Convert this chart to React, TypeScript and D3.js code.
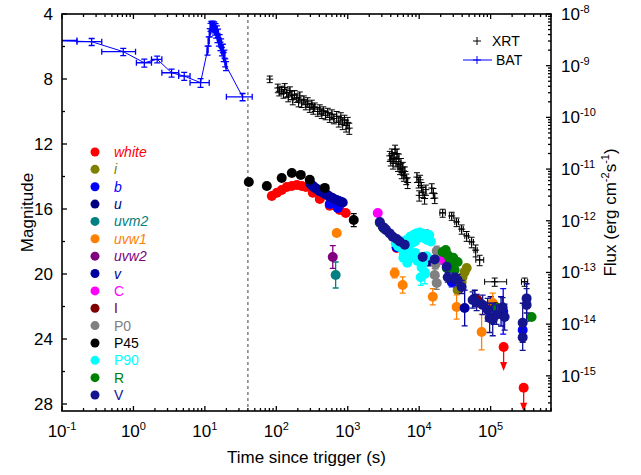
import React, { useRef, useEffect } from 'react';
import * as d3 from 'd3';

// BAT: time (s), flux, t low, t high, flux error
const batPoints: number[][] = [
  [0.08, 3.07e-9, 0.04, 0.162, 0.4e-9],
  [0.26, 2.91e-9, 0.162, 0.36, 0.45e-9],
  [0.72, 1.87e-9, 0.36, 1.07, 0.3e-9],
  [1.42, 1.14e-9, 1.1, 1.79, 0.2e-9],
  [2.15, 1.33e-9, 1.79, 2.5, 0.2e-9],
  [3.42, 7.3e-10, 2.5, 4.3, 1.3e-10],
  [5.14, 6.3e-10, 4.3, 6.2, 1.1e-10],
  [8.7, 4.7e-10, 6.2, 11.5, 0.9e-10],
  [10.9, 2.0e-9, 10.7, 11.1, 0.4e-9],
  [11.3, 3.0e-9, 11.1, 11.5, 0.6e-9],
  [11.7, 4.4e-9, 11.5, 11.9, 0.8e-9],
  [12.0, 5.6e-9, 11.85, 12.15, 1.0e-9],
  [12.3, 6.2e-9, 12.15, 12.45, 1.0e-9],
  [12.6, 5.8e-9, 12.45, 12.75, 1.0e-9],
  [12.9, 6.3e-9, 12.75, 13.05, 1.0e-9],
  [13.2, 5.2e-9, 13.05, 13.35, 0.9e-9],
  [13.5, 6.0e-9, 13.35, 13.65, 1.0e-9],
  [13.8, 4.8e-9, 13.65, 13.95, 0.9e-9],
  [14.1, 5.5e-9, 13.95, 14.25, 1.0e-9],
  [14.4, 4.2e-9, 14.25, 14.55, 0.8e-9],
  [14.7, 5.0e-9, 14.55, 14.85, 0.9e-9],
  [15.0, 3.5e-9, 14.85, 15.15, 0.7e-9],
  [15.3, 4.3e-9, 15.15, 15.5, 0.8e-9],
  [15.7, 2.9e-9, 15.5, 15.9, 0.5e-9],
  [16.1, 3.4e-9, 15.9, 16.3, 0.6e-9],
  [16.5, 2.4e-9, 16.3, 16.7, 0.45e-9],
  [16.9, 2.8e-9, 16.7, 17.1, 0.5e-9],
  [17.3, 1.9e-9, 17.1, 17.55, 0.35e-9],
  [17.8, 2.2e-9, 17.55, 18.05, 0.4e-9],
  [18.3, 1.5e-9, 18.05, 18.55, 0.3e-9],
  [18.8, 1.7e-9, 18.55, 19.05, 0.3e-9],
  [19.3, 1.15e-9, 19.05, 19.55, 0.2e-9],
  [19.8, 1.0e-9, 19.55, 20.1, 0.2e-9],
  [33.7, 2.5e-10, 20, 46, 0.4e-10],
];

// XRT: time (s), flux, flux error, [t low, t high]
const xrtPoints: number[][] = [
  [81, 5.5e-10, 0.8e-10],
  [105, 3.7e-10, 0.7e-10], [110, 3.2e-10, 0.6e-10], [119, 3.4e-10, 0.6e-10], [126, 2.9e-10, 0.55e-10],
  [131, 3.8e-10, 0.7e-10], [140, 3.0e-10, 0.55e-10], [147, 2.5e-10, 0.5e-10], [155, 3.3e-10, 0.6e-10],
  [165, 2.7e-10, 0.5e-10], [170, 2.2e-10, 0.45e-10], [180, 2.8e-10, 0.5e-10], [194, 2.4e-10, 0.45e-10],
  [205, 2.0e-10, 0.4e-10], [213, 2.6e-10, 0.5e-10], [227, 1.9e-10, 0.35e-10], [243, 2.2e-10, 0.4e-10],
  [259, 1.75e-10, 0.35e-10], [275, 2.0e-10, 0.4e-10], [294, 1.55e-10, 0.3e-10], [314, 1.8e-10, 0.35e-10],
  [330, 1.45e-10, 0.3e-10], [345, 1.6e-10, 0.3e-10], [380, 1.3e-10, 0.25e-10], [406, 1.45e-10, 0.3e-10],
  [433, 1.2e-10, 0.25e-10], [455, 1.35e-10, 0.25e-10], [490, 1.1e-10, 0.2e-10], [525, 1.25e-10, 0.25e-10],
  [560, 1.0e-10, 0.2e-10], [600, 1.15e-10, 0.25e-10], [640, 9.5e-11, 0.2e-10], [700, 1.05e-10, 0.25e-10],
  [750, 8.5e-11, 0.2e-10], [800, 9.8e-11, 0.25e-10], [850, 7.8e-11, 0.2e-10], [900, 9.0e-11, 0.2e-10],
  [950, 7.0e-11, 0.18e-10], [1000, 8.0e-11, 0.2e-10], [1050, 6.2e-11, 0.15e-10],
  [3870, 1.8e-11, 0.4e-11], [4000, 1.5e-11, 0.35e-11], [4150, 2.0e-11, 0.45e-11], [4300, 1.3e-11, 0.3e-11],
  [4450, 1.7e-11, 0.4e-11], [4600, 2.4e-11, 0.5e-11], [4750, 1.4e-11, 0.3e-11], [4900, 2.0e-11, 0.45e-11],
  [5050, 1.15e-11, 0.25e-11], [5200, 1.6e-11, 0.35e-11], [5400, 1.0e-11, 0.22e-11], [5550, 1.3e-11, 0.3e-11],
  [5700, 8.5e-12, 0.2e-11], [5900, 1.1e-11, 0.25e-11], [6100, 7.5e-12, 0.17e-11], [6300, 9.0e-12, 0.2e-11],
  [6600, 6.5e-12, 0.15e-11], [6900, 5.5e-12, 0.13e-11],
  [9300, 7.0e-12, 0.15e-11], [9800, 5.6e-12, 0.13e-11], [10300, 6.2e-12, 0.14e-11], [10800, 4.5e-12, 0.1e-11],
  [11300, 3.6e-12, 0.8e-12], [10000, 3.1e-12, 0.7e-12], [11900, 2.7e-12, 0.6e-12], [12400, 4.0e-12, 0.9e-12],
  [15000, 4.3e-12, 0.9e-12], [15800, 3.45e-12, 0.75e-12], [16500, 2.75e-12, 0.6e-12],
  [21300, 1.42e-12, 0.25e-12, 19500, 23200], [28500, 1.24e-12, 0.22e-12, 26500, 30500],
  [33400, 9.5e-13, 0.18e-12, 31500, 35500], [39300, 6.9e-13, 0.14e-12, 37000, 41500],
  [46200, 5.1e-13, 0.11e-12, 43500, 49000], [54200, 3.9e-13, 0.09e-12, 51000, 57500],
  [61700, 2.7e-13, 0.07e-12, 58500, 65000], [70200, 1.75e-13, 0.4e-13, 62000, 80000],
  [114000, 6.6e-14, 0.12e-13, 82400, 167500], [299000, 6.6e-14, 0.12e-13, 270000, 330000],
];

// optical / UV: time (s), magnitude, error
const white = [[86.5, 15.2], [102, 15.0], [119, 14.83], [140, 14.65], [165, 14.58], [194, 14.52], [227, 14.58], [259, 14.65], [324, 15.0], [406, 15.38], [560, 15.8], [773, 16.06], [937, 16.25], [4840, 18.4], [6270, 18.83], [63700, 21.72], [72000, 21.8]];
const whiteLimits = [[152000, 24.49], [290000, 27.0]];
const iBand = [[46200, 19.63], [43300, 19.87], [40500, 20.18], [39300, 20.49], [36800, 20.86], [34500, 20.98], [124000, 22.34]];
const bBand = [[560, 15.69], [724, 15.94], [4840, 18.35], [6270, 18.75], [28500, 20.49, 0.3], [110000, 22.6, 0.5], [150000, 22.3, 1.4], [281000, 23.45, 0.6]];
const uBand = [[300, 14.45], [330, 14.6], [365, 14.75], [406, 14.9], [455, 15.0], [525, 15.15], [600, 15.3], [700, 15.45], [800, 15.55], [13500, 19.2, 0.3], [60000, 21.5, 0.5], [100000, 22.0, 0.6]];
const uvm2 = [[677, 20.06, 0.8]];
const uvw1 = [[701, 17.48, 0.2], [4540, 19.94, 0.3], [5870, 20.68, 0.5], [15500, 21.4, 0.5], [33400, 22.03, 0.75], [74800, 23.57, 1.1], [107000, 21.78, 0.6]];
const uvw2 = [[617, 18.95, 0.7]];
const vBand = [[314, 14.55], [345, 14.7], [390, 14.85], [433, 14.95], [490, 15.1], [560, 15.25], [650, 15.4], [750, 15.5], [850, 15.6], [3300, 17.2], [43300, 22.09, 1.1], [140000, 22.3, 0.9]];
const cBand = [[2630, 16.25], [20400, 19.14]];
const IBand = [[65500, 21.6], [118000, 22.03]];
const p0 = [[12700, 17.54, 0.15], [17600, 18.58, 0.3], [17000, 19.38, 0.3], [16500, 20.06, 0.4], [17600, 20.55, 0.4]];
const p45 = [[41.2, 14.34], [73.6, 14.58], [119, 14.09], [165, 13.78], [220, 13.9], [294, 14.2], [477, 14.7], [1213, 16.68, 0.4]];
const p90 = [[4700, 18.1], [5100, 18.3], [5500, 18.0], [5900, 18.5], [6300, 18.2], [6700, 17.9], [7100, 18.4], [7500, 17.7], [7900, 18.1], [8300, 17.6], [8700, 18.0], [9100, 17.5], [9600, 17.8], [10100, 17.45], [10600, 17.7], [11100, 17.5], [11700, 17.8], [12300, 17.55], [13000, 17.9], [13800, 17.6], [14600, 18.0], [7300, 18.8], [8000, 19.0], [8800, 18.7], [9500, 19.2], [10200, 19.0], [10800, 19.6], [11400, 19.3], [12000, 19.9], [12600, 18.9], [10500, 20.2, 0.5], [12000, 20.0, 0.6], [6000, 19.0], [6800, 19.3]];
const rBand = [[2810, 16.85], [3200, 17.2], [21300, 18.65], [23500, 18.52], [25100, 18.83], [26700, 19.14], [28500, 19.45], [24300, 19.63], [31400, 19.75], [34500, 19.26], [30000, 19.0], [121000, 22.09], [374000, 22.65]];
const VBand = [[2810, 16.8], [3090, 17.1], [3450, 17.3], [3870, 17.5], [4260, 17.7], [4840, 17.85], [5330, 18.0], [6270, 18.2], [11200, 18.95], [16500, 19.1], [24300, 19.55], [25100, 20.2, 0.3], [31400, 20.25, 0.3], [34500, 20.37, 0.35], [39300, 20.8, 0.4], [56000, 21.6, 0.5], [63700, 21.75, 0.5], [77300, 21.9, 0.6], [90800, 22.2, 0.7], [96800, 22.7, 0.9], [107000, 22.8, 1.0], [121000, 22.5, 0.6], [147000, 22.05, 0.6], [157000, 22.65, 0.8], [319000, 21.5, 0.9], [319000, 21.9, 1.0], [281000, 23.0, 1.2], [281000, 23.9, 0.8]];

const bands = [
  { name: 'white', color: '#ff0000', italic: true, data: white },
  { name: 'i', color: '#808000', italic: true, data: iBand },
  { name: 'b', color: '#0000ff', italic: true, data: bBand },
  { name: 'u', color: '#000080', italic: true, data: uBand },
  { name: 'uvm2', color: '#008080', italic: true, data: uvm2 },
  { name: 'uvw1', color: '#ff8000', italic: true, data: uvw1 },
  { name: 'uvw2', color: '#800080', italic: true, data: uvw2 },
  { name: 'v', color: '#0000a0', italic: true, data: vBand },
  { name: 'C', color: '#ff00ff', italic: false, data: cBand },
  { name: 'I', color: '#800000', italic: false, data: IBand },
  { name: 'P0', color: '#808080', italic: false, data: p0 },
  { name: 'P45', color: '#000000', italic: false, data: p45 },
  { name: 'P90', color: '#00ffff', italic: false, data: p90 },
  { name: 'R', color: '#008000', italic: false, data: rBand },
  { name: 'V', color: '#151590', italic: false, data: VBand },
];

const magTicks = [4, 8, 12, 16, 20, 24, 28];
const magMinor = [6, 10, 14, 18, 22, 26];
const timeExps = [-1, 0, 1, 2, 3, 4, 5];
const fluxExps = [-8, -9, -10, -11, -12, -13, -14, -15];
const triggerLine = 40;

export default function App() {
  const ref = useRef<SVGSVGElement>(null);

  useEffect(() => {
    const W = 641, H = 475;
    const m = { left: 62, right: 551, top: 14, bottom: 411 };
    const font = '"Liberation Sans", Arial, sans-serif';

    const x = d3.scaleLog().domain([0.1, 7e5]).range([m.left, m.right]);
    const yMag = d3.scaleLinear().domain([4, 28.43]).range([m.top, m.bottom]);
    const yFlux = d3.scaleLog().domain([1e-8, Math.pow(10, -15.68)]).range([m.top, m.bottom]);

    const svg = d3.select(ref.current);
    svg.selectAll('*').remove();
    svg.attr('width', W).attr('height', H).attr('font-family', font);

    svg.append('defs').append('clipPath').attr('id', 'plotclip')
      .append('rect').attr('x', m.left).attr('y', m.top)
      .attr('width', m.right - m.left).attr('height', m.bottom - m.top);

    const plot = svg.append('g').attr('clip-path', 'url(#plotclip)');

    // trigger line
    plot.append('line')
      .attr('x1', x(triggerLine)).attr('x2', x(triggerLine))
      .attr('y1', m.top).attr('y2', m.bottom)
      .attr('stroke', '#808080').attr('stroke-width', 1.5).attr('stroke-dasharray', '3,3');

    const cap = 3;
    const errV = (g: any, px: number, y1: number, y2: number, color: string, w = 1) => {
      g.append('path')
        .attr('d', `M${px},${y1}V${y2}M${px - cap},${y1}H${px + cap}M${px - cap},${y2}H${px + cap}`)
        .attr('stroke', color).attr('stroke-width', w).attr('fill', 'none');
    };
    const errH = (g: any, x1: number, x2: number, py: number, color: string, w = 1) => {
      g.append('path')
        .attr('d', `M${x1},${py}H${x2}M${x1},${py - cap}V${py + cap}M${x2},${py - cap}V${py + cap}`)
        .attr('stroke', color).attr('stroke-width', w).attr('fill', 'none');
    };
    const plus = (g: any, px: number, py: number, color: string, s = 4) => {
      g.append('path').attr('d', `M${px - s},${py}H${px + s}M${px},${py - s}V${py + s}`)
        .attr('stroke', color).attr('stroke-width', 1).attr('fill', 'none');
    };

    // BAT
    const batG = plot.append('g');
    batG.append('path')
      .datum(batPoints)
      .attr('d', d3.line<number[]>().x(d => x(d[0])).y(d => yFlux(d[1])))
      .attr('fill', 'none').attr('stroke', '#0000ff').attr('stroke-width', 1);
    batPoints.forEach(d => {
      const px = x(d[0]), py = yFlux(d[1]);
      errH(batG, x(d[2]), x(d[3]), py, '#0000ff', 1.3);
      errV(batG, px, yFlux(d[1] + d[4]), yFlux(d[1] - d[4]), '#0000ff', 1.3);
    });

    // XRT
    const xrtG = plot.append('g');
    xrtPoints.forEach(d => {
      const px = x(d[0]), py = yFlux(d[1]);
      errV(xrtG, px, yFlux(d[1] + d[2]), yFlux(d[1] - d[2]), '#000000');
      if (d.length > 3) errH(xrtG, x(d[3]), x(d[4]), py, '#000000');
      plus(xrtG, px, py, '#000000', 3.5);
    });

    // optical bands
    bands.forEach(b => {
      const g = plot.append('g');
      b.data.forEach(d => {
        if (d[2]) errV(g, x(d[0]), yMag(d[1] - d[2]), yMag(d[1] + d[2]), b.color, 1.3);
      });
      g.selectAll('circle').data(b.data).enter().append('circle')
        .attr('cx', d => x(d[0])).attr('cy', d => yMag(d[1])).attr('r', 5)
        .attr('fill', b.color);
      if (b.name === 'white') {
        whiteLimits.forEach(d => {
          const px = x(d[0]), py = yMag(d[1]);
          g.append('line').attr('x1', px).attr('x2', px).attr('y1', py).attr('y2', py + 16)
            .attr('stroke', b.color).attr('stroke-width', 1.3);
          g.append('path').attr('d', `M${px - 3.5},${py + 15}L${px + 3.5},${py + 15}L${px},${py + 24}Z`)
            .attr('fill', b.color);
          g.append('circle').attr('cx', px).attr('cy', py).attr('r', 5).attr('fill', b.color);
        });
      }
    });

    // frame
    svg.append('rect').attr('x', m.left).attr('y', m.top)
      .attr('width', m.right - m.left).attr('height', m.bottom - m.top)
      .attr('fill', 'none').attr('stroke', '#000').attr('stroke-width', 1.6);

    const ticks = svg.append('g').attr('stroke', '#000').attr('stroke-width', 1.3);
    const major = 5, minor = 3;
    // x ticks
    timeExps.concat([6]).forEach(e => {
      for (let k = 1; k <= 9; k++) {
        const v = k * Math.pow(10, e);
        if (v < 0.1 || v > 7e5) continue;
        const px = x(v), len = k === 1 ? major : minor;
        ticks.append('line').attr('x1', px).attr('x2', px).attr('y1', m.bottom).attr('y2', m.bottom - len);
        ticks.append('line').attr('x1', px).attr('x2', px).attr('y1', m.top).attr('y2', m.top + len);
      }
    });
    // left ticks
    magTicks.concat(magMinor).forEach(v => {
      const py = yMag(v), len = magTicks.includes(v) ? major : minor;
      ticks.append('line').attr('x1', m.left).attr('x2', m.left + len).attr('y1', py).attr('y2', py);
    });
    // right ticks
    for (let e = -16; e <= -8; e++) {
      for (let k = 1; k <= 9; k++) {
        const v = k * Math.pow(10, e);
        if (v > 1e-8 || v < Math.pow(10, -15.68)) continue;
        const py = yFlux(v), len = k === 1 ? major : minor;
        ticks.append('line').attr('x1', m.right).attr('x2', m.right - len).attr('y1', py).attr('y2', py);
      }
    }

    const fs = 17, sup = 11;
    // x labels
    timeExps.forEach(e => {
      const t = svg.append('text').attr('x', x(Math.pow(10, e))).attr('y', 437)
        .attr('text-anchor', 'middle').attr('font-size', fs);
      t.append('tspan').text('10');
      t.append('tspan').attr('dy', -7).attr('font-size', sup).text(String(e));
    });
    // left labels
    magTicks.forEach(v => {
      svg.append('text').attr('x', 53).attr('y', yMag(v) + 6)
        .attr('text-anchor', 'end').attr('font-size', fs).text(String(v));
    });
    // right labels
    fluxExps.forEach(e => {
      const t = svg.append('text').attr('x', 561).attr('y', yFlux(Math.pow(10, e)) + 6)
        .attr('font-size', fs);
      t.append('tspan').text('10');
      t.append('tspan').attr('dy', -7).attr('font-size', sup).text(String(e));
    });

    // axis titles
    svg.append('text').attr('x', (m.left + m.right) / 2).attr('y', 463)
      .attr('text-anchor', 'middle').attr('font-size', fs).text('Time since trigger (s)');
    svg.append('text').attr('transform', `translate(33,${(m.top + m.bottom) / 2}) rotate(-90)`)
      .attr('text-anchor', 'middle').attr('font-size', fs).text('Magnitude');
    const ft = svg.append('text').attr('transform', `translate(616,${(m.top + m.bottom) / 2}) rotate(-90)`)
      .attr('text-anchor', 'middle').attr('font-size', fs);
    ft.append('tspan').text('Flux (erg cm');
    ft.append('tspan').attr('dy', -7).attr('font-size', sup).text('-2');
    ft.append('tspan').attr('dy', 7).text('s');
    ft.append('tspan').attr('dy', -7).attr('font-size', sup).text('-1');
    ft.append('tspan').attr('dy', 7).text(')');

    // band legend
    const lg = svg.append('g');
    bands.forEach((b, i) => {
      const py = 152 + i * 17.36;
      lg.append('circle').attr('cx', 95).attr('cy', py).attr('r', 4.5).attr('fill', b.color);
      lg.append('text').attr('x', 114).attr('y', py + 5).attr('font-size', 14)
        .attr('font-style', b.italic ? 'italic' : 'normal').attr('fill', b.color).text(b.name);
    });

    // XRT / BAT legend
    plus(svg, 477, 41, '#000', 4);
    svg.append('text').attr('x', 492).attr('y', 46).attr('font-size', 14).text('XRT');
    svg.append('line').attr('x1', 463).attr('x2', 492).attr('y1', 60).attr('y2', 60)
      .attr('stroke', '#0000ff').attr('stroke-width', 1);
    plus(svg, 477, 60, '#0000ff', 4);
    svg.append('text').attr('x', 496).attr('y', 65).attr('font-size', 14).text('BAT');
  }, []);

  return (
    <svg ref={ref} style={{ position: 'absolute', left: 0, top: 0, background: '#fff' }} />
  );
}
